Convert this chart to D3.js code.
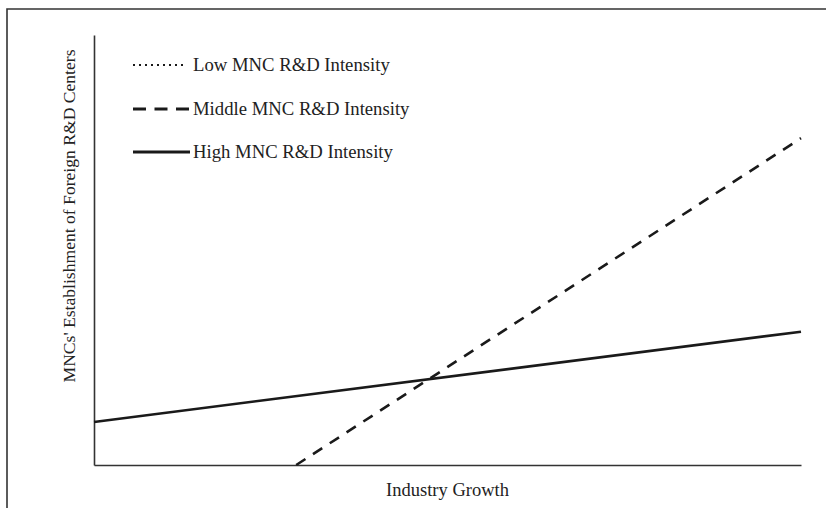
<!DOCTYPE html>
<html>
<head>
<meta charset="utf-8">
<script src="https://cdn.jsdelivr.net/npm/d3@7/dist/d3.min.js"></script>
<style>
  html, body { margin: 0; padding: 0; background: #fff; }
  svg { display: block; }
  text { font-family: "Liberation Serif", "Times New Roman", serif; fill: #222; }
</style>
</head>
<body>
<svg id="chart" width="826" height="508"></svg>
<script>
// Data (abstract units: x = industry growth 0..10, y = establishment 0..10)
const seriesNames = ["Low MNC R&D Intensity", "Middle MNC R&D Intensity", "High MNC R&D Intensity"];
const seriesStyles = ["dotted", "dashed", "solid"];
const lowPoints = [];                                  // not visible inside the plotted range
const middlePoints = [{x: 2.86, y: 0}, {x: 10, y: 7.6}];
const highPoints = [{x: 0, y: 1.0}, {x: 10, y: 3.1}];
const xLabel = "Industry Growth";
const yLabel = "MNCs' Establishment of Foreign R&D Centers";

const svg = d3.select("#chart");
const margin = {left: 94, right: 25, top: 35, bottom: 43};
const W = 826, H = 508;

const x = d3.scaleLinear().domain([0, 10]).range([margin.left, W - margin.right]);
const y = d3.scaleLinear().domain([0, 10]).range([H - margin.bottom, margin.top]);

// outer frame (cropped at right/bottom)
svg.append("path")
  .attr("d", `M7,${H + 5} L7,9 L${W + 5},9`)
  .attr("fill", "none").attr("stroke", "#333").attr("stroke-width", 1.6);

// axes
const xAxis = d3.axisBottom(x).tickValues([]).tickSizeOuter(0);
const yAxis = d3.axisLeft(y).tickValues([]).tickSizeOuter(0);
svg.append("g").attr("transform", `translate(0,${y(0)})`).call(xAxis)
  .select(".domain").attr("stroke", "#333").attr("stroke-width", 1.6);
svg.append("g").attr("transform", `translate(${x(0)},0)`).call(yAxis)
  .select(".domain").attr("stroke", "#333").attr("stroke-width", 1.6);

// lines
const line = d3.line().x(d => x(d.x)).y(d => y(d.y));
const dashFor = {dotted: "2,4", dashed: "11,9", solid: null};
const widthFor = {dotted: 2, dashed: 2.6, solid: 2.6};
const allPoints = [lowPoints, middlePoints, highPoints];

allPoints.forEach((pts, i) => {
  if (!pts.length) return;
  svg.append("path")
    .datum(pts)
    .attr("d", line)
    .attr("fill", "none")
    .attr("stroke", "#1a1a1a")
    .attr("stroke-width", widthFor[seriesStyles[i]])
    .attr("stroke-dasharray", dashFor[seriesStyles[i]]);
});

// legend
const legendBaselines = [71, 115, 158];
seriesNames.forEach((name, i) => {
  const ly = legendBaselines[i] - 6;
  const st = seriesStyles[i];
  svg.append("line")
    .attr("x1", 133).attr("x2", st === "solid" ? 190 : (st === "dashed" ? 189 : 187))
    .attr("y1", ly).attr("y2", ly)
    .attr("stroke", "#1a1a1a")
    .attr("stroke-width", st === "dotted" ? 2 : 2.8)
    .attr("stroke-dasharray", st === "dotted" ? "2,4" : (st === "dashed" ? "13,8.5" : null));
  svg.append("text")
    .attr("x", 193).attr("y", legendBaselines[i])
    .style("font-size", "18.7px")
    .text(name);
});

// axis titles
svg.append("text")
  .attr("x", (x(0) + x(10)) / 2).attr("y", 496)
  .attr("text-anchor", "middle")
  .style("font-size", "18.5px")
  .text(xLabel);

svg.append("text")
  .attr("transform", `translate(75,216) rotate(-90)`)
  .attr("text-anchor", "middle")
  .style("font-size", "17.6px")
  .text(yLabel);
</script>
</body>
</html>
